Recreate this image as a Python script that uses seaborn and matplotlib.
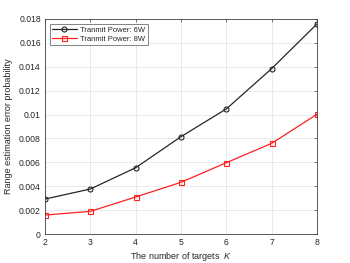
import numpy as np
import pandas as pd
import matplotlib
matplotlib.use("Agg")
import matplotlib.pyplot as plt
import seaborn as sns

# number of targets K
targets = [2, 3, 4, 5, 6, 7, 8]
# range estimation error probability
err_6w = [0.00293, 0.00377, 0.00555, 0.00815, 0.01047, 0.01384, 0.01758]
err_8w = [0.00159, 0.00190, 0.00310, 0.00433, 0.00597, 0.00759, 0.01002]
series = ["Tranmit Power: 6W", "Tranmit Power: 8W"]

df = pd.DataFrame({
    "K": targets * 2,
    "err": err_6w + err_8w,
    "power": [series[0]] * len(targets) + [series[1]] * len(targets),
})

sns.set_style("whitegrid")
plt.rcParams['font.family'] = ['Liberation Sans', 'DejaVu Sans']
plt.rcParams['mathtext.fontset'] = 'custom'
plt.rcParams['mathtext.it'] = 'Liberation Sans:italic'

fig = plt.figure(figsize=(3.5, 2.63), dpi=100)
ax = fig.add_axes([0.1286, 0.110, 0.777, 0.818])

ax = sns.lineplot(data=df, x="K", y="err", hue="power", style="power",
                  palette=["#262626", "#ff2020"], markers=["o", "s"], dashes=False,
                  markersize=3.6, markerfacecolor="none", markeredgewidth=0.8,
                  linewidth=0.9, ax=ax)

# open markers need edge colour from the line
for line in ax.lines:
    line.set_markeredgecolor(line.get_color())
    line.set_markerfacecolor("none")

ax.set_xlim(2, 8)
ax.set_ylim(0, 0.018)
ax.set_xticks(targets)
yt = np.arange(0, 0.0181, 0.002)
ax.set_yticks(yt)
ax.set_yticklabels(["0"] + ["%g" % round(v, 3) for v in yt[1:]])

ax.grid(True, color="#e6e6e6", linewidth=0.6)
for s in ax.spines.values():
    s.set_color("#404040")
    s.set_linewidth(0.6)
ax.tick_params(direction="in", length=2.5, width=0.5, labelsize=6.2, colors="#404040",
               top=True, right=True, pad=3)
ax.tick_params(labelcolor="#262626")

ax.set_xlabel("The number of targets  $K$", fontsize=6.5, color="#262626", labelpad=2)
ax.set_ylabel("Range estimation error probability", fontsize=6.5, color="#262626", labelpad=4)

leg = ax.legend(loc="upper left", fontsize=5.5, frameon=True, fancybox=False,
                borderpad=0.35, handlelength=3.2, handletextpad=0.4, labelspacing=0.25,
                borderaxespad=0.6)
leg.get_frame().set_edgecolor("#262626")
leg.get_frame().set_linewidth(0.5)
leg.set_title(None)

fig.savefig("out.png", dpi=100)
